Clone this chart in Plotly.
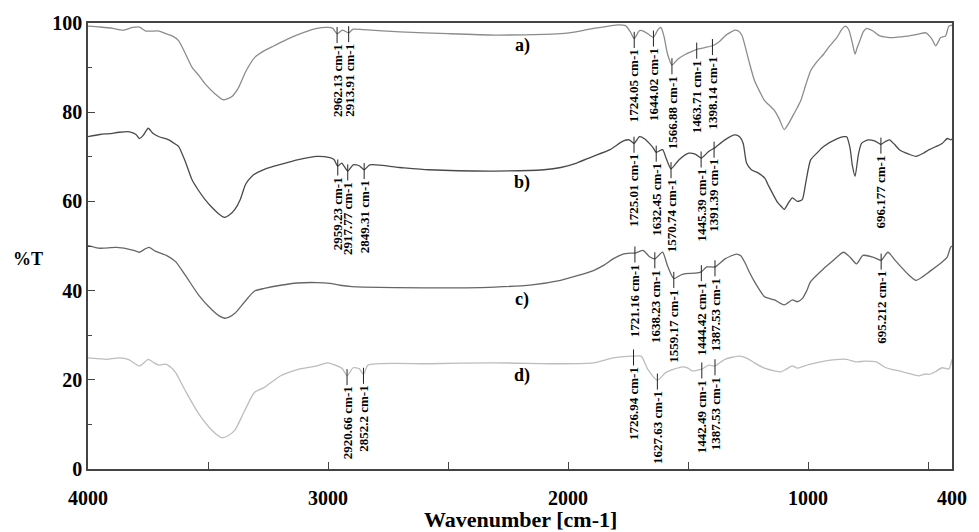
import numpy as np
import plotly.graph_objects as go

# ---- FTIR spectra: wavenumber (cm-1) and transmittance (%T) ----
wn_a = [4000, 3950, 3896, 3855, 3814, 3786, 3759, 3704, 3676, 3649, 3622, 3594, 3567, 3539, 3511,
        3470, 3437, 3403, 3375, 3341, 3305, 3265, 3224, 3169, 3100, 3046, 3000, 2980, 2962.13, 2940,
        2913.91, 2895, 2852, 2700, 2500, 2305, 2150, 2030, 1950, 1894, 1830, 1791, 1760, 1740,
        1724.05, 1702, 1680, 1660, 1644.02, 1625, 1613, 1600, 1585, 1566.88, 1540, 1510, 1480,
        1463.71, 1430, 1398.14, 1370, 1346, 1320, 1305, 1290, 1275, 1264, 1243, 1223, 1200, 1181,
        1160, 1140, 1120, 1099, 1080, 1065, 1045, 1030, 1010, 989, 960, 935, 910, 880, 860, 845,
        831, 815, 804, 795, 784, 770, 756, 729, 701, 670, 647, 610, 578, 540, 509, 485, 468, 455,
        448, 427, 413, 400]
t_a = [99.3, 99.1, 98.8, 98.4, 99.0, 99.1, 98.2, 98.2, 97.6, 97.1, 96.0, 93.1, 90.1, 88.3, 86.3,
       84.1, 82.8, 83.4, 85.3, 89.3, 92.3, 93.8, 94.9, 96.4, 97.9, 98.8, 99.0, 98.8, 97.6, 98.4,
       97.8, 98.6, 98.5, 98.0, 97.6, 97.3, 97.4, 97.6, 98.2, 98.8, 99.3, 99.6, 99.4, 98.0,
       96.5, 98.3, 98.0, 97.3, 96.8, 98.5, 99.0, 97.0, 93.0, 90.6, 92.0, 93.0, 93.7,
       94.1, 94.5, 94.9, 95.8, 97.1, 98.0, 98.4, 98.2, 97.2, 95.2, 90.8, 87.1, 84.5, 82.6,
       81.5, 80.4, 78.5, 76.1, 77.5, 79.0, 81.0, 82.6, 86.0, 89.3, 91.5, 93.0, 94.8, 96.7, 98.5, 99.3,
       98.6, 95.5, 93.0, 94.5, 96.0, 98.0, 98.8, 98.2, 97.1, 96.8, 96.7, 96.9, 97.1, 97.5, 97.8, 96.5, 94.9, 96.0,
       96.7, 97.1, 99.3, 99.5]

wn_b = [4000, 3950, 3910, 3870, 3827, 3800, 3786, 3770, 3749, 3730, 3704, 3663, 3635, 3622, 3595,
        3567, 3540, 3512, 3486, 3455, 3432, 3410, 3388, 3365, 3346, 3334, 3310, 3293, 3260, 3224,
        3170, 3128, 3046, 2992, 2975, 2959.23, 2943, 2917.77, 2895, 2870, 2849.31, 2826, 2700,
        2580, 2305, 2100, 2030, 1964, 1900, 1825, 1771, 1745, 1725.01, 1702, 1680, 1661, 1645,
        1632.45, 1606, 1590, 1570.74, 1538, 1497, 1470, 1445.39, 1414, 1391.39, 1346, 1305, 1285,
        1270, 1256, 1236, 1208, 1180, 1167, 1126, 1110, 1099, 1080, 1065, 1044, 1024, 1010, 989,
        960, 935, 880, 852, 839, 825, 815, 804, 790, 777, 750, 720, 696.177, 675, 660, 640, 619,
        580, 550, 520, 495, 441, 420, 405, 400]
t_b = [74.5, 75.0, 75.2, 75.5, 75.6, 75.0, 74.1, 74.8, 76.4, 75.3, 74.5, 73.8, 72.8, 72.3, 69.0,
       64.9, 62.5, 60.4, 58.8, 57.2, 56.4, 57.0, 58.2, 60.5, 63.5, 64.6, 66.0, 66.5, 67.3, 67.9,
       68.7, 69.3, 70.1, 69.8, 69.4, 67.9, 68.6, 66.8, 68.2, 68.0, 67.1, 68.2, 67.6,
       67.1, 66.8, 67.1, 67.6, 68.6, 70.0, 71.6, 73.5, 73.8, 73.0, 74.5, 74.0, 73.0, 72.0,
       71.0, 71.6, 69.5, 67.3, 69.3, 70.8, 70.6, 69.7, 71.2, 71.9, 73.8, 74.9, 74.5,
       73.0, 68.6, 67.1, 66.4, 65.2, 63.8, 59.7, 58.8, 58.2, 59.8, 60.8, 60.0, 60.4, 64.0, 69.3,
       71.0, 72.3, 74.0, 74.5, 74.5, 72.0, 68.0, 65.6, 70.5, 73.0, 73.8, 73.5, 72.8, 73.5, 73.8, 72.8, 71.6,
       70.6, 70.1, 70.8, 71.6, 73.0, 74.1, 73.8, 74.0]

wn_c = [4000, 3950, 3882, 3814, 3786, 3760, 3745, 3725, 3704, 3670, 3635, 3594, 3539, 3484, 3455,
        3430, 3410, 3388, 3347, 3306, 3265, 3197, 3128, 3046, 2992, 2950, 2900, 2852, 2600, 2305,
        2150, 2031, 1950, 1894, 1850, 1812, 1771, 1740, 1721.16, 1688, 1660, 1638.23, 1606, 1585,
        1559.17, 1530, 1510, 1470, 1444.42, 1422, 1387.53, 1346, 1298, 1280, 1264, 1243, 1223,
        1200, 1181, 1140, 1099, 1065, 1044, 1024, 1005, 989, 935, 900, 852, 825, 798, 771, 729,
        695.212, 667, 640, 619, 580, 550, 520, 495, 441, 420, 406, 400]
t_c = [50.1, 49.5, 49.7, 49.1, 48.6, 49.4, 49.7, 49.0, 48.5, 47.8, 46.5, 43.4, 39.0, 35.7, 34.4,
       33.8, 34.1, 34.9, 37.5, 39.9, 40.5, 41.2, 41.7, 41.8, 41.6, 41.2, 40.9, 40.8, 40.6, 40.8,
       41.3, 42.3, 43.5, 44.5, 45.7, 47.1, 48.2, 48.4, 48.4, 49.0, 47.6, 47.1, 48.6, 45.5,
       42.7, 43.5, 43.8, 43.9, 44.2, 45.3, 45.3, 47.1, 48.2, 47.8, 46.4, 44.0, 42.0,
       40.0, 38.6, 37.9, 36.8, 37.9, 37.5, 38.2, 40.0, 42.0, 44.9, 46.5, 48.6, 47.5, 46.0, 47.9, 47.5,
       46.8, 48.6, 47.0, 45.7, 43.5, 42.3, 43.2, 44.2, 46.4, 47.5, 49.7, 50.0]

wn_d = [4000, 3950, 3922, 3868, 3830, 3786, 3765, 3749, 3725, 3704, 3676, 3655, 3635, 3594, 3539,
        3484, 3441, 3415, 3388, 3347, 3306, 3265, 3197, 3128, 3046, 3002, 2962, 2940, 2920.66, 2895,
        2870, 2852.2, 2833, 2580, 2305, 2031, 1894, 1812, 1740, 1726.94, 1695, 1668, 1627.63, 1593,
        1524, 1500, 1483, 1442.49, 1414, 1387.53, 1346, 1284, 1250, 1223, 1181, 1140, 1113, 1090,
        1065, 1044, 1020, 989, 921, 870, 839, 798, 760, 716, 675, 640, 606, 537, 510, 495, 470,
        441, 413, 405, 400]
t_d = [24.9, 24.7, 24.6, 24.9, 24.5, 23.1, 23.9, 24.6, 23.8, 23.3, 23.5, 22.8, 21.6, 17.5, 12.4,
       8.7, 7.0, 7.5, 8.7, 13.1, 17.2, 18.3, 20.9, 22.3, 23.1, 23.8, 23.1, 22.5, 20.9, 22.7,
       22.5, 21.2, 23.3, 23.6, 23.8, 23.6, 23.8, 24.9, 25.3, 25.3, 25.3, 22.4, 19.9, 21.6,
       22.9, 22.6, 22.0, 22.4, 23.3, 23.1, 24.6, 25.3, 24.7, 23.8, 22.6, 22.0, 21.8, 22.4,
       23.1, 22.6, 23.0, 23.5, 24.3, 24.6, 24.6, 24.0, 24.2, 24.0, 22.7, 22.2, 21.8, 20.9, 21.3, 21.2, 21.8,
       22.7, 22.4, 23.5, 24.6]

# labelled band positions for each spectrum
peaks_a = [2962.13, 2913.91, 1724.05, 1644.02, 1566.88, 1463.71, 1398.14]
peaks_b = [2959.23, 2917.77, 2849.31, 1725.01, 1632.45, 1570.74, 1445.39, 1391.39, 696.177]
peaks_c = [1721.16, 1638.23, 1559.17, 1444.42, 1387.53, 695.212]
peaks_d = [2920.66, 2852.2, 1726.94, 1627.63, 1442.49, 1387.53]

series_names = ["a)", "b)", "c)", "d)"]
series_colors = ["#8c8c8c", "#4a4a4a", "#666666", "#bdbdbd"]
name_pos_wn = 2190
name_pos_t = [94.9, 64.2, 37.9, 20.9]

x_tickvals = [4000, 3500, 3000, 2500, 2000, 1500, 1000, 500, 400]
x_ticktext = ["4000", "", "3000", "", "2000", "", "1000", "", "400"]

SERIF = "Liberation Serif, Times New Roman, serif"

fig = go.Figure()
spectra = [(wn_a, t_a, peaks_a), (wn_b, t_b, peaks_b), (wn_c, t_c, peaks_c), (wn_d, t_d, peaks_d)]

annotations = []
shapes = []
for (wn, tr, peaks), name, color, ny in zip(spectra, series_names, series_colors, name_pos_t):
    fig.add_trace(go.Scatter(x=wn, y=tr, mode="lines", name=name,
                             line=dict(color=color, width=1.3, shape="spline", smoothing=0.6),
                             showlegend=False, hoverinfo="skip"))
    # interpolate on ascending wavenumber
    wn_arr = np.array(wn[::-1], dtype=float)
    tr_arr = np.array(tr[::-1], dtype=float)
    for p in peaks:
        v = float(np.interp(p, wn_arr, tr_arr))
        shapes.append(dict(type="line", xref="x", yref="y", x0=p, x1=p,
                           y0=v + 1.5, y1=v - 2.1,
                           line=dict(color="#222222", width=1)))
        label = f"{p:g} cm-1" if len(f"{p:g}".split(".")[-1]) != 1 else f"{p} cm-1"
        annotations.append(dict(x=p, y=v - 2.2, xref="x", yref="y", text=label,
                                textangle=-90, xanchor="center", yanchor="top",
                                showarrow=False, borderpad=0,
                                font=dict(family=SERIF, size=13, color="black", weight="bold")))
    annotations.append(dict(x=name_pos_wn, y=ny, xref="x", yref="y", text=name,
                            showarrow=False, xanchor="center", yanchor="middle",
                            font=dict(family=SERIF, size=18, color="black", weight="bold")))

annotations.append(dict(x=-0.07, y=0.47, xref="paper", yref="paper", text="%T",
                        showarrow=False, xanchor="center", yanchor="middle",
                        font=dict(family=SERIF, size=18, color="black", weight="bold")))
annotations.append(dict(x=0.5, y=-0.113, xref="paper", yref="paper", text="Wavenumber [cm-1]",
                        showarrow=False, xanchor="center", yanchor="middle",
                        font=dict(family=SERIF, size=22, color="black", weight="bold")))

fig.update_layout(
    width=979, height=532,
    margin=dict(l=88, r=16, t=18, b=63),
    paper_bgcolor="white", plot_bgcolor="white",
    annotations=annotations, shapes=shapes,
    xaxis=dict(range=[4000, 400], tickvals=x_tickvals, ticktext=x_ticktext,
               ticks="inside", ticklen=7, tickcolor="#444", tickwidth=1.3,
               showline=True, mirror=True, linecolor="#444", linewidth=1.5,
               showgrid=False, zeroline=False, ticklabelstandoff=10,
               tickfont=dict(family=SERIF, size=20, color="black", weight="bold")),
    yaxis=dict(range=[0, 100], dtick=20, tick0=0,
               ticks="inside", ticklen=7, tickcolor="#444", tickwidth=1.3,
               minor=dict(dtick=10, ticks="inside", ticklen=4, tickcolor="#444", showgrid=False),
               showline=True, mirror=True, linecolor="#444", linewidth=1.5,
               showgrid=False, zeroline=False,
               tickfont=dict(family=SERIF, size=20, color="black", weight="bold")),
)

fig.write_html("out.html")
